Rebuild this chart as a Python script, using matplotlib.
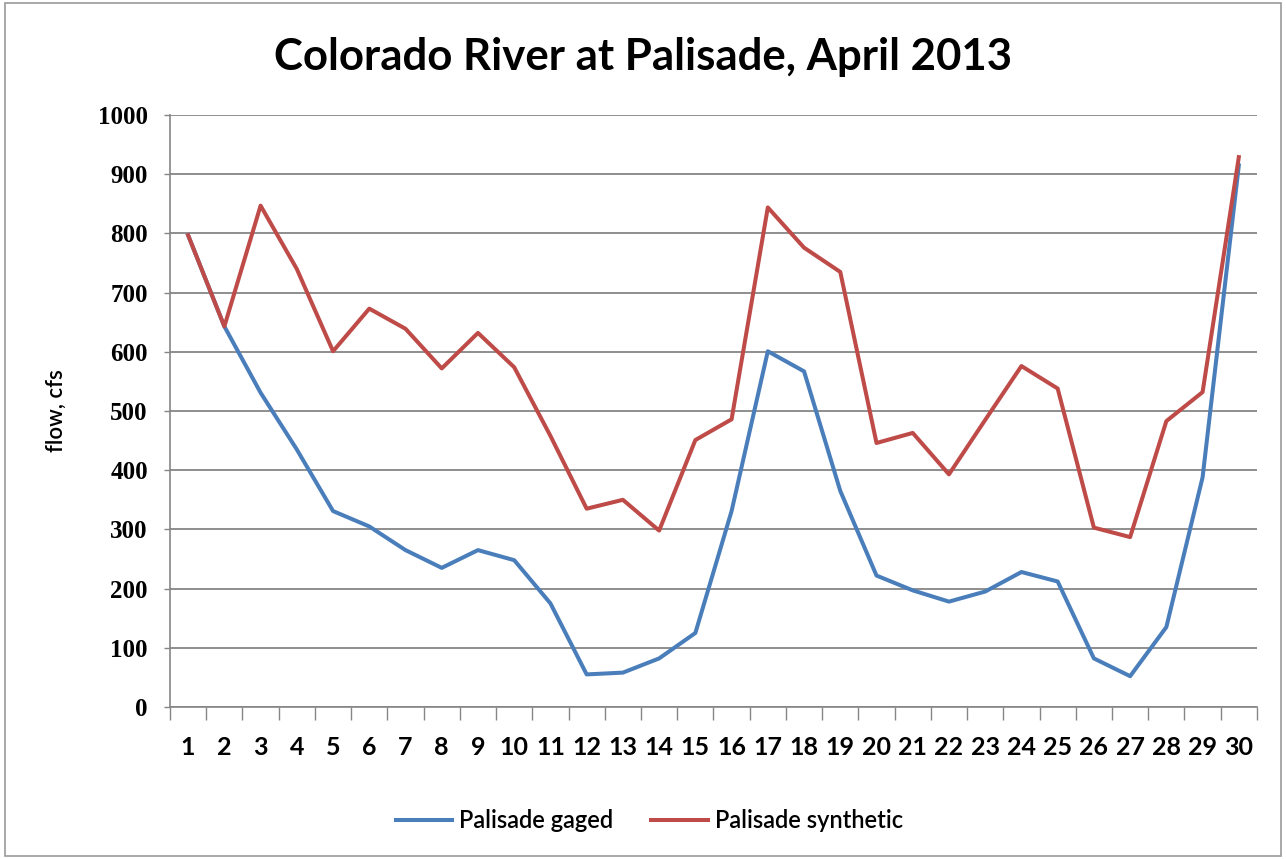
import numpy as np
import matplotlib
matplotlib.use("Agg")
import matplotlib.pyplot as plt
from matplotlib.ticker import FixedLocator

# daily flow, April 2013
days = list(range(1, 31))
gaged = [797, 643, 531, 435, 331, 305, 265, 235, 265, 248,
         175, 55, 58, 82, 125, 331, 601, 567, 365, 222,
         197, 178, 195, 228, 212, 82, 52, 135, 388, 915]
synthetic = [797, 643, 847, 740, 601, 673, 639, 572, 632, 574,
             458, 335, 350, 298, 451, 486, 844, 776, 735, 446,
             463, 393, 485, 576, 538, 303, 287, 483, 532, 929]
y_ticks = list(range(0, 1001, 100))

grid_col = "#868686"
blue = "#4A7EBB"
red = "#BE4B48"
sans = ["Lato", "DejaVu Sans"]
serif = ["Liberation Serif", "DejaVu Serif"]

fig = plt.figure(figsize=(12.86, 8.59), dpi=100)
fig.patch.set_facecolor("white")
ax = fig.add_axes([0.1322, 0.177, 0.8452, 0.689])

ax.plot(days, gaged, color=blue, lw=2.9, solid_joinstyle="round", label="Palisade gaged", zorder=3)
ax.plot(days, synthetic, color=red, lw=2.9, solid_joinstyle="round", label="Palisade synthetic", zorder=4)

ax.set_xlim(0.5, 30.5)
ax.set_ylim(0, 1000)

# category axis: ticks between days, labels centred on days
ax.xaxis.set_major_locator(FixedLocator(np.arange(0.5, 31, 1)))
ax.xaxis.set_minor_locator(FixedLocator(days))
ax.set_xticklabels([])
ax.set_xticklabels([str(d) for d in days], minor=True)
ax.tick_params(axis="x", which="major", length=9, width=1, color=grid_col, direction="out")
ax.tick_params(axis="x", which="minor", length=0, pad=21, labelsize=18)
for lab in ax.get_xticklabels(minor=True):
    lab.set_family(sans)
    lab.set_fontweight("bold")

ax.set_yticks(y_ticks)
ax.tick_params(axis="y", length=4, width=1, color=grid_col, pad=12, labelsize=18)
for lab in ax.get_yticklabels():
    lab.set_family(serif)
    lab.set_fontweight("bold")

ax.yaxis.grid(True, color=grid_col, lw=1.3)
ax.set_axisbelow(True)
for side in ("top", "right"):
    ax.spines[side].set_visible(False)
for side in ("left", "bottom"):
    ax.spines[side].set_color(grid_col)
    ax.spines[side].set_linewidth(1.2)

ax.set_ylabel("flow, cfs", fontsize=16, family=sans, fontweight="semibold", labelpad=22)

fig.text(0.5, 0.934, "Colorado River at Palisade, April 2013", ha="center", va="center",
         fontsize=31.5, fontweight="bold", family=sans)

fig.legend(loc="center", bbox_to_anchor=(0.505, 0.045), ncol=2, frameon=False,
           prop={"family": sans, "size": 17, "weight": "semibold"}, handlelength=2.4,
           handletextpad=0.3, columnspacing=1.6)

# outer chart border
fig.add_artist(plt.Rectangle((0.004, 0.003), 0.992, 0.994, transform=fig.transFigure,
                             fill=False, edgecolor="#9a9a9a", lw=1.2))

fig.savefig("out.png", dpi=100, facecolor="white")
